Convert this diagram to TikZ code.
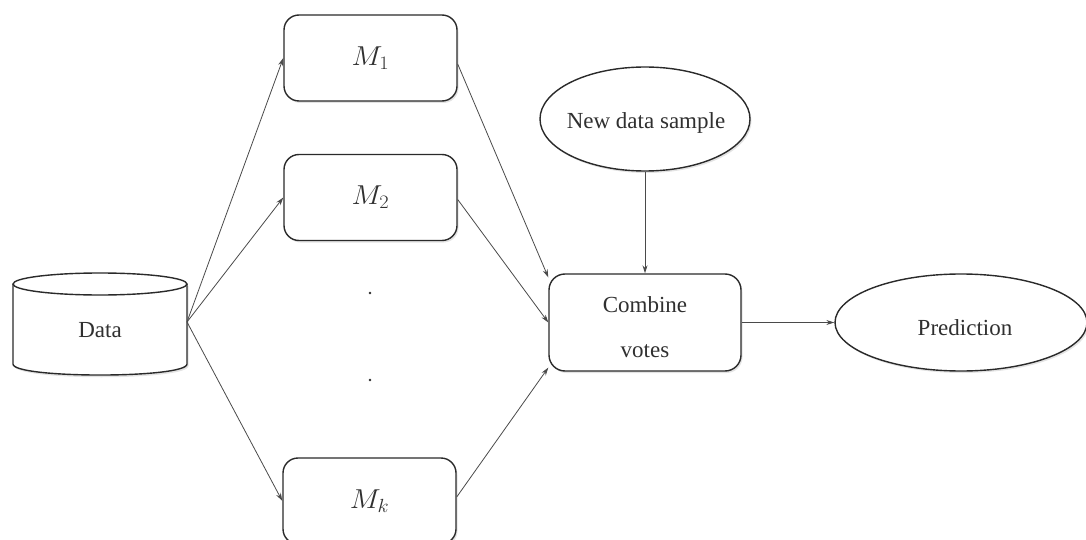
\documentclass[tikz,border=0pt]{standalone}
\usepackage{graphicx}
\usepackage{fontspec}
\setmainfont{Liberation Serif}
\usetikzlibrary{arrows.meta,shapes.geometric,shadows}
\definecolor{ink}{HTML}{2A2A2A}
\definecolor{txt}{HTML}{303030}
\newcommand{\mlab}[1]{\scalebox{1.18}[1.1]{$M_{#1}$}}
\tikzset{
  shade/.style={drop shadow={shadow xshift=1.5pt,shadow yshift=-2pt,opacity=0.22,fill=gray}},
  boxline/.style={draw=ink,line width=1.4pt},
  mbox/.style={boxline,shade,fill=white,rounded corners=15pt,minimum width=173pt,minimum height=86pt,inner sep=0pt,font=\fontsize{24}{30}\selectfont,text=txt},
  oval/.style={boxline,shade,fill=white,ellipse,inner sep=0pt,font=\fontsize{23}{28}\selectfont,text=txt},
  lbl/.style={font=\fontsize{23}{45}\selectfont,text=txt,align=center,inner sep=0pt},
  arr/.style={draw=ink!85,line width=0.8pt,-{Stealth[length=8pt,width=5pt]}},
  dotnode/.style={circle,fill=ink,inner sep=0pt,minimum size=2.6pt}
}
\begin{document}
\begin{tikzpicture}[x=1pt,y=1pt]
\useasboundingbox (0,0) rectangle (1086,539);
% Data cylinder
\fill[gray,opacity=0.22] (14.5,253) -- (14.5,173) .. controls (14.5,158) and (188.5,158) .. (188.5,173) -- (188.5,253) -- cycle;
\fill[white] (13,255) -- (13,175) .. controls (13,160.3) and (187,160.3) .. (187,175) -- (187,255) -- cycle;
\draw[boxline] (13,255) -- (13,175) .. controls (13,160.3) and (187,160.3) .. (187,175) -- (187,255);
\draw[boxline,fill=white] (100,255) ellipse [x radius=87, y radius=11];
\node[lbl] (data) at (100,209) {Data};
\coordinate (dataout) at (187,217);
% model boxes
\node[mbox] (m1) at (370.5,481) {\mlab{1}};
\node[mbox] (m2) at (370.5,341.5) {\mlab{2}};
\node[mbox] (mk) at (369.5,38) {\mlab{k}};
\node[dotnode] (d1) at (370,246) {};
\node[dotnode] (d2) at (370,159) {};
% new data sample
\node[oval,minimum width=210pt,minimum height=104pt] (nds) at (645,420) {};
\node[lbl] (ndstext) at (646,416) {New data sample};
% combine votes
\node[boxline,shade,fill=white,rounded corners=16pt,minimum width=192pt,minimum height=97pt] (cv) at (645,216.5) {};
\node[lbl] (cvtext) at (645,211.5) {Combine\\votes};
% prediction
\node[oval,minimum width=252pt,minimum height=97pt] (pred) at (961,216.5) {};
\node[lbl] (predtext) at (965,211) {Prediction};
% connectors
\draw[arr] (dataout) -- (m1.west);
\draw[arr] (dataout) -- (m2.west);
\draw[arr] (dataout) -- (mk.west);
\draw[arr] ([yshift=-6pt]m1.east) -- (cv.155);
\draw[arr] ([yshift=-2pt]m2.east) -- (cv.west);
\draw[arr] ([yshift=4pt]mk.east) -- (cv.205);
\draw[arr] (nds.south) -- (cv.north);
\draw[arr] (cv.east) -- (pred.west);
\end{tikzpicture}
\end{document}
